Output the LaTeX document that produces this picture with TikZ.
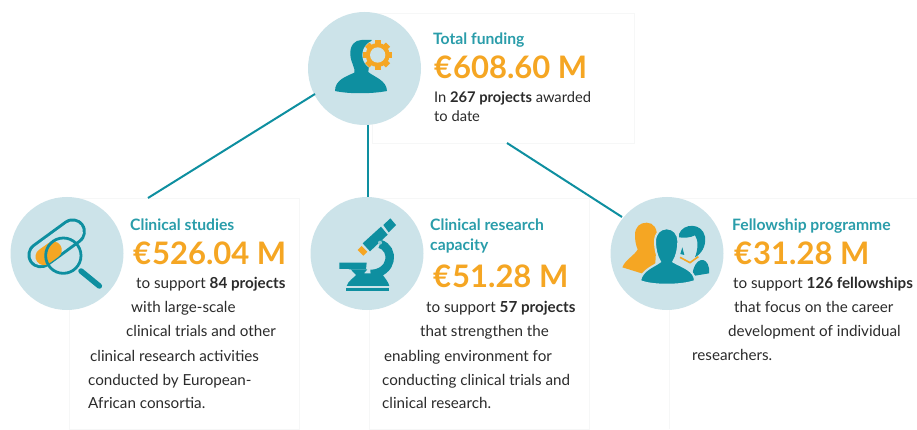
\documentclass[tikz,border=0pt]{standalone}
\usepackage{fontspec}
\setmainfont{Lato}
\definecolor{discol}{HTML}{CCE3E9}
\definecolor{tealc}{HTML}{0E8FA0}
\definecolor{headc}{HTML}{2A9DAA}
\definecolor{amber}{HTML}{F5A623}
\definecolor{ink}{HTML}{2B2B2B}
\definecolor{cardline}{HTML}{F6F7F7}
\tikzset{
  x=1pt,y=-1pt,
  card/.style={draw=cardline,line width=0.8pt,fill=white},
  discnode/.style={circle,fill=discol,minimum size=113pt,inner sep=0pt},
  link/.style={draw=tealc,line width=2pt},
  txt/.style={anchor=base west,inner sep=0pt,text=ink,font=\fontsize{15.2}{18}\selectfont},
  toptxt/.style={txt,font=\fontsize{14.7}{18}\selectfont},
  head/.style={anchor=base west,inner sep=0pt,text=headc,font=\fontsize{15.7}{18}\selectfont\bfseries},
  amount/.style={anchor=base west,inner sep=0pt,text=amber,font=\fontsize{31}{36}\selectfont\bfseries},
  ico/.style={shift={#1},scale=1/3},
}
\newcommand{\Eu}{€\kern1pt}
\begin{document}
\begin{tikzpicture}
\useasboundingbox (0,0) rectangle (917,430);
\fill[white] (0,0) rectangle (917,430);
% cards
\draw[card] (372,13) rectangle (634,143);
\draw[card] (69,198) rectangle (299,429);
\draw[card] (369,198) rectangle (589,429);
\draw[card] (669,198) -- (669,429);
\draw[card] (669,198) -- (917,198);
% discs
\node[discnode] (top) at (364.5,68.5) {};
\node[discnode] (dl) at (67,253.5) {};
\node[discnode] (dm) at (367,253.5) {};
\node[discnode] (dr) at (667,253.5) {};
% connector free ends
\coordinate (ltop) at (315,94);
\coordinate (lend) at (148,198);
\coordinate (mtop) at (367.5,125);
\coordinate (mend) at (367.5,197);
\coordinate (rtop) at (507,143);
\coordinate (rend) at (622,217);
\draw[link] (ltop) -- (lend);
\draw[link] (mtop) -- (mend);
\draw[link] (rtop) -- (rend);
% person + gear
\begin{scope}[ico={(325,30)}]
\fill[tealc] (30,183) .. controls (30,150) and (62,140) .. (88,128)
  .. controls (92,115) and (78,100) .. (76,75)
  .. controls (74,45) and (90,30) .. (110,30)
  -- (140,30) -- (130,126)
  .. controls (145,140) and (185,150) .. (186,183)
  .. controls (140,192) and (70,192) .. (30,183) -- cycle;
\fill[discol] (158,75) circle[radius=46];
\foreach \a in {0,45,...,315}
  \fill[amber,rotate around={\a:(158,75)}] (149,31) rectangle (167,55);
\fill[amber] (158,75) circle[radius=36];
\fill[discol] (158,75) circle[radius=23];
\end{scope}
% magnifier
\begin{scope}[ico={(20,210)}]
\draw[tealc,line width=26.5pt,line cap=round] (62,135) -- (158,65);
\draw[discol,line width=20.5pt,line cap=round] (62,135) -- (158,65);
\draw[amber,line width=17pt,line cap=round] (72,140) -- (100,120);
\draw[tealc,line width=2.8pt] (130,137) circle[radius=53];
\draw[tealc,line width=5.5pt,line cap=round] (183,183) -- (238,228);
\end{scope}
% microscope
\begin{scope}[ico={(330,210)}]
\draw[tealc,line width=8.5pt] (150,102) .. controls (195,115) and (190,190) .. (122,192);
\fill[tealc] (28,158) -- (110,158) -- (108,178) -- (58,178) -- (56,177) -- (28,177) -- cycle;
\fill[tealc] (62,178) -- (112,178) -- (102,190) -- (155,190) .. controls (165,205) and (175,215) .. (178,228)
  -- (50,228) .. controls (55,212) and (70,205) .. (78,195) -- cycle;
\fill[tealc] (48,233) rectangle (178,242);
\fill[tealc] (98,100) -- (153,50) -- (173,74) -- (120,124) -- cycle;
\fill[tealc] (160,45) -- (181,25) -- (198,45) -- (176,67) -- cycle;
\fill[amber] (83,120) -- (95,108) -- (112,125) -- (100,137) -- cycle;
\fill[discol!70!tealc] (150,98) circle[radius=6];
\end{scope}
% people
\begin{scope}[ico={(615,210)}]
\fill[amber] (22,172) .. controls (30,150) and (60,135) .. (68,118)
  .. controls (62,105) and (60,90) .. (60,75)
  .. controls (60,50) and (75,38) .. (95,38)
  .. controls (115,38) and (130,55) .. (125,90) -- (120,175) -- (80,190) -- cycle;
\fill[tealc] (192,72) .. controls (205,38) and (262,38) .. (270,80)
  .. controls (274,110) and (258,132) .. (240,142)
  .. controls (250,115) and (250,90) .. (240,76)
  .. controls (225,84) and (205,84) .. (192,82) -- cycle;
\fill[tealc] (202,112) -- (208,135) -- (196,132) -- cycle;
\draw[amber,line width=1.6pt] (195,142) -- (225,158) -- (250,140);
\fill[tealc] (233,190) .. controls (238,145) and (275,135) .. (282,175)
  -- (282,190) -- (240,197) -- cycle;
\filldraw[tealc,draw=discol,line width=2pt] (75,213) .. controls (80,180) and (115,170) .. (135,155)
  .. controls (125,140) and (120,115) .. (120,95)
  .. controls (120,70) and (135,55) .. (155,55)
  .. controls (175,55) and (190,70) .. (190,95)
  .. controls (190,115) and (185,140) .. (175,155)
  .. controls (200,170) and (240,180) .. (240,213)
  .. controls (200,228) and (110,228) .. (75,213) -- cycle;
\end{scope}
% top text
\node[head] (t1) at (433,45) {Total funding};
\node[amount] (t2) at (434,79) {\Eu 608.60 M};
\node[toptxt] (t3) at (434,103) {In \textbf{267 projects} awarded};
\node[toptxt] (t4) at (434,122) {to date};
% left text
\node[head] (a1) at (130,230) {Clinical studies};
\node[amount] (a2) at (133,264) {\Eu 526.04 M};
\node[txt] (a3) at (136,288) {to support \textbf{84 projects}};
\node[txt] (a4) at (131,312) {with large-scale};
\node[txt] (a5) at (126,336) {clinical trials and other};
\node[txt] (a6) at (90,361) {clinical research activities};
\node[txt] (a7) at (88,385) {conducted by European-};
\node[txt] (a8) at (88,408) {African consortia.};
% middle text
\node[head] (b1) at (430,230) {Clinical research};
\node[head] (b2) at (430,250) {capacity};
\node[amount] (b3) at (433,287) {\Eu 51.28 M};
\node[txt] (b4) at (426,312) {to support \textbf{57 projects}};
\node[txt] (b5) at (420,336) {that strengthen the};
\node[txt] (b6) at (384,361) {enabling environment for};
\node[txt] (b7) at (382,385) {conducting clinical trials and};
\node[txt] (b8) at (382,408) {clinical research.};
% right text
\node[head] (c1) at (732,230) {Fellowship programme};
\node[amount] (c2) at (734,264) {\Eu 31.28 M};
\node[txt] (c3) at (733,288) {to support \textbf{126 fellowships}};
\node[txt] (c4) at (734,312) {that focus on the career};
\node[txt] (c5) at (728,336) {development of individual};
\node[txt] (c6) at (692,360) {researchers.};
\end{tikzpicture}
\end{document}
